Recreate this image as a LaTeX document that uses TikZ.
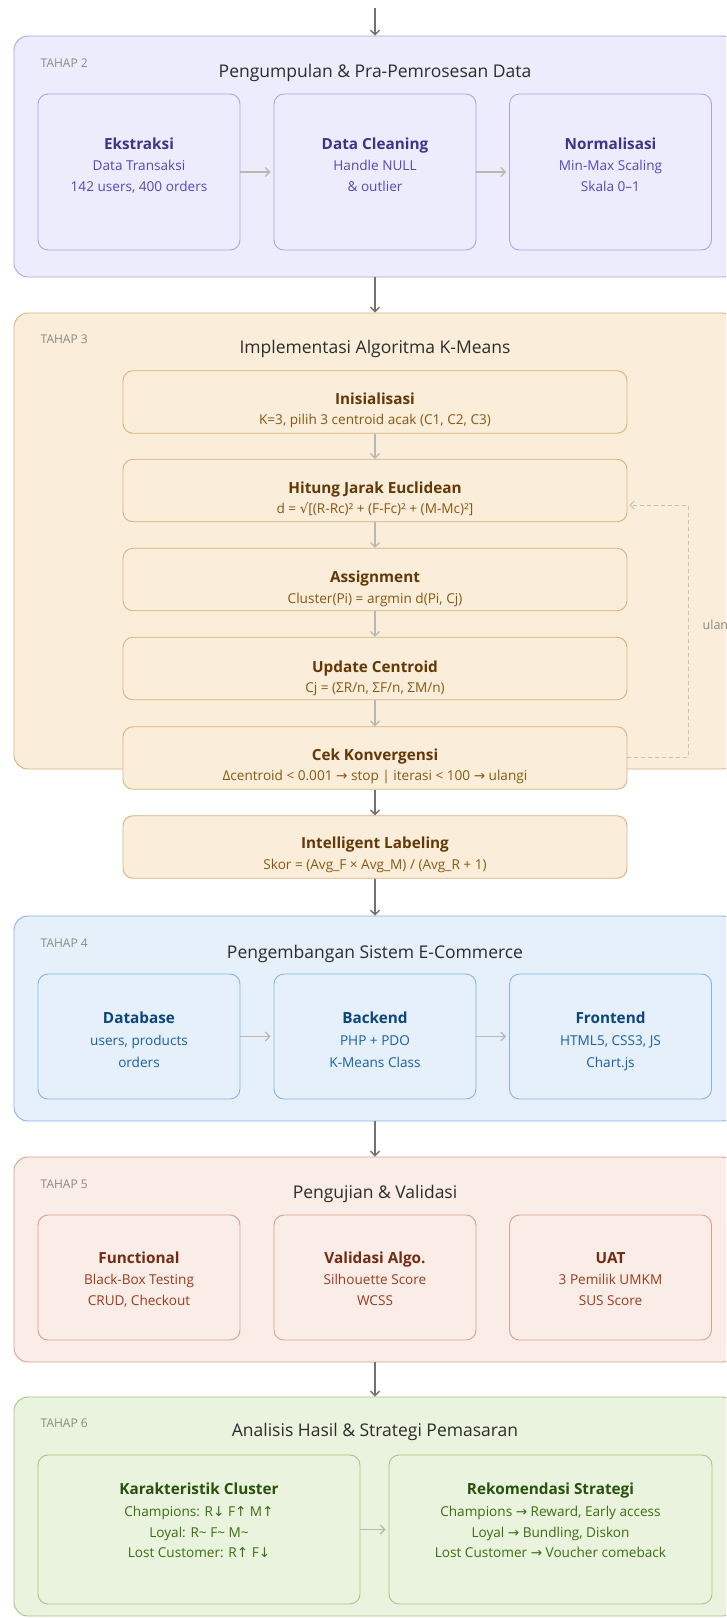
\documentclass[tikz,border=0pt]{standalone}
\usepackage{fontspec}
\setmainfont{Open Sans}
\newfontfamily\symf{DejaVu Sans}
\usetikzlibrary{arrows.meta}
\newcommand{\rarr}{{\symf\char"2192}}
\newcommand{\darr}{{\symf\char"2193}}
\newcommand{\uarr}{{\symf\char"2191}}
\newcommand{\sqrtch}{{\symf\char"221A}}
\definecolor{ink}{HTML}{2C2C2A}
\definecolor{tahapgray}{HTML}{8A8983}
\definecolor{arrdark}{HTML}{73726C}
\definecolor{arrlight}{HTML}{B9B7B0}
\definecolor{loopgray}{HTML}{C4C2BA}
% purple
\definecolor{f2}{HTML}{EDECFC}\definecolor{l2}{HTML}{ABA5EA}\definecolor{t2}{HTML}{3C3489}\definecolor{s2}{HTML}{534AB7}
% amber
\definecolor{f3}{HTML}{FAEDDA}\definecolor{l3}{HTML}{D6B27F}\definecolor{t3}{HTML}{633806}\definecolor{s3}{HTML}{8A5712}
% blue
\definecolor{f4}{HTML}{E6F0FB}\definecolor{l4}{HTML}{86B3E3}\definecolor{t4}{HTML}{0C447C}\definecolor{s4}{HTML}{185FA5}
% coral
\definecolor{f5}{HTML}{FAECE7}\definecolor{l5}{HTML}{D9A08E}\definecolor{t5}{HTML}{712B13}\definecolor{s5}{HTML}{993C1D}
% green
\definecolor{f6}{HTML}{EAF3DE}\definecolor{l6}{HTML}{A2C685}\definecolor{t6}{HTML}{27500A}\definecolor{s6}{HTML}{3B6D11}
\tikzset{
  panel/.style={draw, rounded corners=14pt, line width=0.9pt, minimum width=722pt, inner sep=0pt},
  box/.style={draw, rounded corners=10pt, line width=0.9pt, inner sep=0pt},
  tribox/.style={box, minimum width=202pt},
  kbox/.style={box, minimum width=504pt, minimum height=62.5pt, fill=f3, draw=l3},
  ptitle/.style={font=\fontsize{17.5}{21}\selectfont, text=ink, anchor=mid, inner sep=0pt, yshift=-3pt},
  bt/.style={font=\fontsize{15.3}{18}\selectfont\bfseries, anchor=mid, inner sep=0pt, yshift=-3.5pt},
  bs/.style={font=\fontsize{13.6}{16}\selectfont, anchor=mid, inner sep=0pt, yshift=-3pt},
  tahap/.style={font=\fontsize{12}{14}\selectfont, text=tahapgray, anchor=mid west, inner sep=0pt, yshift=-2pt},
  marr/.style={draw=arrdark, line width=1.3pt, -{Straight Barb[length=4.5pt,width=9pt]}},
  larr/.style={draw=arrlight, line width=1.2pt, -{Straight Barb[length=4.5pt,width=9pt]}},
  looparr/.style={draw=loopgray, line width=1pt, dash pattern=on 4pt off 3pt, -{Straight Barb[length=4pt,width=8pt]}}
}
\begin{document}
\begin{tikzpicture}[x=1pt,y=-1pt]
\clip (0,0) rectangle (726,1618);
\fill[white] (0,0) rectangle (726,1618);

% ---------- TAHAP 2 ----------
\coordinate (top) at (375,8);
\node[panel, fill=f2, draw=l2, minimum height=241pt] (p2) at (375,156.5) {};
\draw[marr] (top) -- (p2.north);
\node[tahap] (p2l) at (40.5,63) {TAHAP 2};
\node[ptitle] (p2t) at (375,72) {Pengumpulan \& Pra-Pemrosesan Data};
\node[tribox, fill=f2, draw=l2, minimum height=156pt] (e1) at (139,172) {};
\node[tribox, fill=f2, draw=l2, minimum height=156pt] (e2) at (375,172) {};
\node[tribox, fill=f2, draw=l2, minimum height=156pt] (e3) at (610.5,172) {};
\node[bt, text=t2] (e1t) at (139,143) {Ekstraksi};
\node[bs, text=s2] (e1a) at (139,164.5) {Data Transaksi};
\node[bs, text=s2] (e1b) at (139,186) {142 users, 400 orders};
\node[bt, text=t2] (e2t) at (375,143) {Data Cleaning};
\node[bs, text=s2] (e2a) at (375,164.5) {Handle NULL};
\node[bs, text=s2] (e2b) at (375,186) {\& outlier};
\node[bt, text=t2] (e3t) at (610.5,143) {Normalisasi};
\node[bs, text=s2] (e3a) at (610.5,164.5) {Min-Max Scaling};
\node[bs, text=s2] (e3b) at (610.5,186) {Skala 0–1};
\draw[larr, shorten >=3pt] (e1) -- (e2);
\draw[larr, shorten >=3pt] (e2) -- (e3);

% ---------- TAHAP 3 ----------
\node[panel, fill=f3, draw=l3, minimum height=456pt] (p3) at (375,541) {};
\draw[marr] (p2.south) -- (p3.north);
\node[tahap] (p3l) at (40.5,339) {TAHAP 3};
\node[ptitle] (p3t) at (375,348) {Implementasi Algoritma K-Means};

\node[kbox] (k1) at (375,402) {};
\node[kbox] (k2) at (375,490.5) {};
\node[kbox] (k3) at (375,579.5) {};
\node[kbox] (k4) at (375,668.5) {};
\node[kbox] (k5) at (375,758) {};
\node[kbox] (k6) at (375,847) {};

\node[bt, text=t3] (k1t) at (375,398) {Inisialisasi};
\node[bs, text=s3] (k1s) at (375,419) {K=3, pilih 3 centroid acak (C1, C2, C3)};
\node[bt, text=t3] (k2t) at (375,487) {Hitung Jarak Euclidean};
\node[bs, text=s3] (k2s) at (375,508) {d = \sqrtch[(R-Rc)² + (F-Fc)² + (M-Mc)²]};
\node[bt, text=t3] (k3t) at (375,576) {Assignment};
\node[bs, text=s3] (k3s) at (375,597.5) {Cluster(Pi) = argmin d(Pi, Cj)};
\node[bt, text=t3] (k4t) at (375,666) {Update Centroid};
\node[bs, text=s3] (k4s) at (375,687) {Cj = (ΣR/n, ΣF/n, ΣM/n)};
\node[bt, text=t3] (k5t) at (375,754) {Cek Konvergensi};
\node[bs, text=s3] (k5s) at (375,775) {Δcentroid < 0.001 \rarr\ stop | iterasi < 100 \rarr\ ulangi};
\node[bt, text=t3] (k6t) at (375,842) {Intelligent Labeling};
\node[bs, text=s3] (k6s) at (375,863.5) {Skor = (Avg\_F × Avg\_M) / (Avg\_R + 1)};

\draw[larr] (k1) -- (k2);
\draw[larr] (k2) -- (k3);
\draw[larr] (k3) -- (k4);
\draw[larr] (k4) -- (k5);
\draw[marr] (k5) -- (k6);

\coordinate (lpa) at (688,757);
\coordinate (lpb) at (688,505);
\draw[looparr] (k5.east |- lpa) -- (lpa) -- (lpb) -- ([xshift=2pt]k2.east |- lpb);
\node[font=\fontsize{12.5}{14}\selectfont, text=tahapgray, anchor=mid west, inner sep=0pt] (ul) at (702.5,627) {ulangi};

% ---------- TAHAP 4 ----------
\node[panel, fill=f4, draw=l4, minimum height=205pt] (p4) at (375,1018.5) {};
\draw[marr] (k6) -- (p4.north);
\node[tahap] (p4l) at (40.5,943) {TAHAP 4};
\node[ptitle] (p4t) at (375,953) {Pengembangan Sistem E-Commerce};
\node[tribox, fill=f4, draw=l4, minimum height=125pt] (d1) at (139,1036.5) {};
\node[tribox, fill=f4, draw=l4, minimum height=125pt] (d2) at (375,1036.5) {};
\node[tribox, fill=f4, draw=l4, minimum height=125pt] (d3) at (610.5,1036.5) {};
\node[bt, text=t4] (d1t) at (139,1017) {Database};
\node[bs, text=s4] (d1a) at (139,1040) {users, products};
\node[bs, text=s4] (d1b) at (139,1062) {orders};
\node[bt, text=t4] (d2t) at (375,1017) {Backend};
\node[bs, text=s4] (d2a) at (375,1040) {PHP + PDO};
\node[bs, text=s4] (d2b) at (375,1062) {K-Means Class};
\node[bt, text=t4] (d3t) at (610.5,1017) {Frontend};
\node[bs, text=s4] (d3a) at (610.5,1040) {HTML5, CSS3, JS};
\node[bs, text=s4] (d3b) at (610.5,1062) {Chart.js};
\draw[larr, shorten >=3pt] (d1) -- (d2);
\draw[larr, shorten >=3pt] (d2) -- (d3);

% ---------- TAHAP 5 ----------
\node[panel, fill=f5, draw=l5, minimum height=205pt] (p5) at (375,1259.5) {};
\draw[marr] (p4.south) -- (p5.north);
\node[tahap] (p5l) at (40.5,1184) {TAHAP 5};
\node[ptitle] (p5t) at (375,1193) {Pengujian \& Validasi};
\node[tribox, fill=f5, draw=l5, minimum height=125pt] (v1) at (139,1277.5) {};
\node[tribox, fill=f5, draw=l5, minimum height=125pt] (v2) at (375,1277.5) {};
\node[tribox, fill=f5, draw=l5, minimum height=125pt] (v3) at (610.5,1277.5) {};
\node[bt, text=t5] (v1t) at (139,1257) {Functional};
\node[bs, text=s5] (v1a) at (139,1278.5) {Black-Box Testing};
\node[bs, text=s5] (v1b) at (139,1300) {CRUD, Checkout};
\node[bt, text=t5] (v2t) at (375,1257) {Validasi Algo.};
\node[bs, text=s5] (v2a) at (375,1278.5) {Silhouette Score};
\node[bs, text=s5] (v2b) at (375,1300) {WCSS};
\node[bt, text=t5] (v3t) at (610.5,1257) {UAT};
\node[bs, text=s5] (v3a) at (610.5,1278.5) {3 Pemilik UMKM};
\node[bs, text=s5] (v3b) at (610.5,1300) {SUS Score};

% ---------- TAHAP 6 ----------
\node[panel, fill=f6, draw=l6, minimum height=219pt] (p6) at (375,1506.5) {};
\draw[marr] (p5.south) -- (p6.north);
\node[tahap] (p6l) at (40.5,1423) {TAHAP 6};
\node[ptitle] (p6t) at (375,1431) {Analisis Hasil \& Strategi Pemasaran};
\node[box, fill=f6, draw=l6, minimum width=322pt, minimum height=149pt] (c1) at (199,1529.5) {};
\node[box, fill=f6, draw=l6, minimum width=323pt, minimum height=149pt] (c2) at (550.5,1529.5) {};
\node[bt, text=t6] (c1t) at (199,1488) {Karakteristik Cluster};
\node[bs, text=s6] (c1a) at (199,1511) {Champions: R\darr\ F\uarr\ M\uarr};
\node[bs, text=s6] (c1b) at (199,1532) {Loyal: R\textasciitilde\ F\textasciitilde\ M\textasciitilde};
\node[bs, text=s6] (c1c) at (199,1552) {Lost Customer: R\uarr\ F\darr};
\node[bt, text=t6] (c2t) at (550.5,1488) {Rekomendasi Strategi};
\node[bs, text=s6] (c2a) at (550.5,1511) {Champions \rarr\ Reward, Early access};
\node[bs, text=s6] (c2b) at (550.5,1532) {Loyal \rarr\ Bundling, Diskon};
\node[bs, text=s6] (c2c) at (550.5,1552) {Lost Customer \rarr\ Voucher comeback};
\draw[larr, shorten >=3pt] (c1) -- (c2);
\end{tikzpicture}
\end{document}
